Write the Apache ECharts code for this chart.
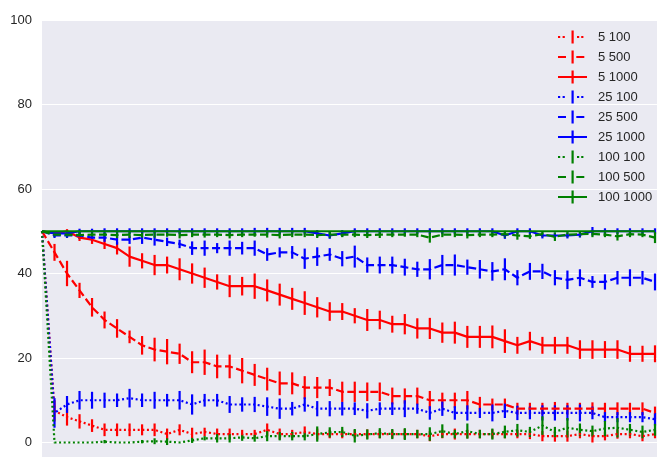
<!DOCTYPE html>
<html>
<head>
<meta charset="utf-8">
<script src="https://cdn.jsdelivr.net/npm/echarts@6/dist/echarts.min.js"></script>
<style>
  html, body { margin: 0; padding: 0; background: #ffffff; }
  #chart { width: 657px; height: 457px; }
</style>
</head>
<body>
<div id="chart"></div>
<script>
// Iteration index along the x axis
const steps = [0,1,2,3,4,5,6,7,8,9,10,11,12,13,14,15,16,17,18,19,20,21,22,23,24,
               25,26,27,28,29,30,31,32,33,34,35,36,37,38,39,40,41,42,43,44,45,46,47,48,49];

const yTicks = [0, 20, 40, 60, 80, 100];

// ---- series "5 *" (red) ----
const mean_5_100 = [50,7.5,6,5,4,3,3,3,3,3,2,3,2,2.5,2,2,2,2,3,2,2,2.5,2,2,2,
                    2,2,2,2,2,2,1.5,2,2,2,2,2,2,2,2,1.5,1.5,1.5,2,1.5,1.5,2,2,1.5,2];
const err_5_100  = [0,2.5,2,1.7,1.5,1.5,1.5,1.5,1.3,1.5,1.3,1.3,1.5,1,1.3,1.3,1,1,1.5,1.3,1,1.3,1.3,1,1,
                    1,1.1,1,1,1.2,1,1.2,1,1.3,1,1,1.1,1,1,1.2,1.2,1.3,1.3,1,1.5,1,1.1,1,1.2,1];

const mean_5_500 = [50,45,40,36,32,29,27,25,23,22,21.5,21,19,19,18,18,17,16,15,14,14,13,13,13,12,
                    12,12,12,11,11,11,10,10,10,10,9,9,9,8,8,8,8,8,8,8,8,8,8,8,7];
const err_5_500  = [0,2,3,1.8,2.2,2,2.2,1.5,2.2,2.8,3,2.4,2.6,3,2.8,2.8,3,2.6,2.7,2.8,2.6,2.7,2.5,2,2.4,
                    2.4,2.2,2.2,2,1.8,2,2.2,1.8,1.8,2.2,1.8,1.4,1.4,1.4,1.4,1.4,1.6,1.4,1.4,1.5,1.4,1.5,1.4,1.5,1.5];

const mean_5_1000 = [50,49.5,50,48.5,48,47,46,44,43,42,42,41,40,39,38,37,37,37,36,35,34,33,32,31,31,
                     30,29,29,28,28,27,27,26,26,25,25,25,24,23,24,23,23,23,22,22,22,22,21,21,21];
const err_5_1000  = [0,0.5,0.5,0.8,1,1.2,1.5,2.4,1.8,2.4,2,2.6,2.4,2.4,1.8,2.6,2.2,3,2.6,2.6,2.6,2.8,2.4,2.2,2,
                     1.8,2.6,2.2,2,2.4,2.4,2.5,2.4,2.6,2.6,2.6,2.7,2.8,2,2.2,2,2,2,2.2,2.2,2,2.2,1.9,1.9,2];

// ---- series "25 *" (blue) ----
const mean_25_100 = [50,7,9,10,10,10,10,10.5,10,10,10,10,9,10,10,9,9,9,8.5,8,8,9,8,8,8,
                     8,7.5,8,8,8,8,7,8,7,7,7,7,7.5,7,7,7,7,7,7,7,6,6,6,6,5.5];
const err_25_100  = [0,3.5,2,2.2,2,1.8,1.6,2.2,1.6,2,1.5,2.2,2.4,1.5,1.5,2,1.7,1.8,2.2,2.4,1.6,1.7,1.8,1.8,1.6,
                     1.5,1.8,1.5,1.5,2,1.2,1.6,1.7,1.6,1.8,1.2,2,1.7,1.7,1.5,1.8,1.8,1.8,2,1.5,1.2,1.2,1.2,1.2,1.5];

const mean_25_500 = [50,49,49,49,48.5,48.5,48,48,48.5,48,47.5,47,46,46,46,46,46,46,44.5,45,45,43.5,44,44.5,43.5,
                     44,42,42,42,41.5,41,41,42,42,41.5,41,40.5,41,39,40.5,40.5,39,38.5,39,38,38,39,39,39,38];
const err_25_500  = [0,0.6,0.6,0.8,0.8,1,1.2,1,1.5,1.4,1,1,1.6,1.8,1.2,1.8,1.5,1.8,1.5,1.2,1.5,2.4,2.2,1.5,1.8,
                     2.6,1.8,2,2,2,1.8,2.4,2.4,2.5,1.8,2.2,2.2,2.6,1.8,2,1.8,1.8,2.2,2,1.4,1.8,1.6,2,1.6,2];

const mean_25_1000 = [50,49.5,49.5,50,50,50,50,50,50,50,50,50,50,50,50,50,50,50,50,50,50,50,49.5,49,49.5,
                      50,50,50,50,50,50,50,50,50,50,50,50,49,50,50,49,49,49,49.2,50,50,50,50,50,50];
const err_25_1000  = [0,0.5,0.5,0.6,0.6,0.7,0.7,0.7,0.7,0.7,0.7,0.7,0.7,0.7,0.7,0.7,0.7,0.8,0.8,0.8,0.8,0.8,0.8,0.8,0.8,
                      0.7,0.7,0.7,0.7,0.7,0.7,0.7,0.7,0.7,0.7,0.7,0.7,0.8,0.7,0.7,0.7,0.7,0.7,0.7,1,0.7,0.7,0.7,0.7,0.7];

// ---- series "100 *" (green) ----
const mean_100_100 = [50,0,0,0,0,0.2,0,0,0.2,0.3,0.2,0,0.5,1,1,1,1.2,1,1.5,1.5,1.5,1.5,2,2.4,2.5,
                      1.6,1.9,2.2,2,2,2,2,2.7,2,2.7,2,2,2.5,2.9,2.5,4,2.5,3.5,3,2.7,3.3,3.5,3,2.5,3];
const err_100_100  = [0,0,0,0,0,0.4,0,0,0.4,0.7,0.8,0,0.6,0.5,1,1,0.8,0.8,1.2,1,1,1,1.8,1.2,1.2,
                      1.6,1.2,1.2,1.2,1.4,1,1.6,1.6,1,1.8,1,1.3,1.5,1.5,1.2,2.2,1.2,2.3,1.5,1.3,1.8,2.3,1.4,1.5,1.4];

const mean_100_500 = [50,49.2,49.2,49.1,49.2,49.2,49.1,49.2,49.1,49.2,49.2,49.1,49.2,49.2,49.2,49.1,49.2,49.2,49.2,49.1,49.2,
                      49.2,49.1,49.2,49.2,49.2,49.1,49.2,49.2,49.2,49.2,48.5,49.2,49.2,49.1,49.2,49.2,49.3,49,48.8,49.3,
                      48.7,49.2,49.3,49.4,49.2,48.8,49.3,49.2,48.5];
const err_100_500  = [0,0.5,0.6,0.8,0.6,0.5,0.7,0.8,0.6,0.7,0.5,0.8,0.6,0.7,0.6,0.8,0.6,0.5,0.7,0.8,0.6,
                      0.6,0.7,0.8,0.6,0.6,0.7,0.8,0.6,0.5,0.6,1.2,0.6,0.6,0.8,0.6,0.6,0.8,1,0.6,0.6,
                      1,0.6,0.6,0.8,0.6,1,0.7,0.6,1.3];

const mean_100_1000 = [50,50,50,50,50,50,50,50,50,50,50,50,50,50,50,50,50,50,50,50,50,50,50,50,50,
                       50,50,50,50,50,50,50,50,50,50,50,50,50,50,50,50,50,50,50,50,50,50,50,50,50];
const err_100_1000  = [0,0,0,0,0,0,0,0,0,0,0,0,0,0,0,0,0,0,0,0,0,0,0,0,0,
                       0,0,0,0,0,0,0,0,0,0,0,0,0,0,0,0,0,0,0,0,0,0,0,0,0];

const seriesDefs = [
  { name: '5 100',    mean: mean_5_100,    err: err_5_100,    color: '#ff0000', style: 'dotted' },
  { name: '5 500',    mean: mean_5_500,    err: err_5_500,    color: '#ff0000', style: 'dashed' },
  { name: '5 1000',   mean: mean_5_1000,   err: err_5_1000,   color: '#ff0000', style: 'solid'  },
  { name: '25 100',   mean: mean_25_100,   err: err_25_100,   color: '#0000ff', style: 'dotted' },
  { name: '25 500',   mean: mean_25_500,   err: err_25_500,   color: '#0000ff', style: 'dashed' },
  { name: '25 1000',  mean: mean_25_1000,  err: err_25_1000,  color: '#0000ff', style: 'solid'  },
  { name: '100 100',  mean: mean_100_100,  err: err_100_100,  color: '#008000', style: 'dotted' },
  { name: '100 500',  mean: mean_100_500,  err: err_100_500,  color: '#008000', style: 'dashed' },
  { name: '100 1000', mean: mean_100_1000, err: err_100_1000, color: '#008000', style: 'solid'  }
];

const LINE_W = 2.2;
const DASHES = { dotted: [2, 2.6], dashed: [8, 3.5], solid: 'solid' };

// Legend glyphs: a short horizontal stroke in the series' pattern crossed by an
// error-bar tick. Two tiny anchors fix the bounding box to the 35x14 legend cell.
const ANCHORS = 'M0,0L0.001,0L0.001,0.001Z M35,14L34.999,14L34.999,13.999Z ';
const BAR = 'M13.5,0.5H15.7V13.5H13.5Z ';
const ICONS = {
  solid:  'path://' + ANCHORS + BAR + 'M0,5.9H29V8.1H0Z',
  dashed: 'path://' + ANCHORS + BAR + 'M0,5.9H8V8.1H0Z M18.3,5.9H26.3V8.1H18.3Z',
  dotted: 'path://' + ANCHORS + BAR +
          'M0,5.9H2.2V8.1H0Z M4.6,5.9H6.8V8.1H4.6Z M19,5.9H21.2V8.1H19Z M23.2,5.9H25.4V8.1H23.2Z'
};

const FONT = '"Liberation Sans", Arial, Helvetica, sans-serif';

const series = [];
seriesDefs.forEach((d, k) => {
  // vertical error bars (drawn below every line)
  const barData = [];
  steps.forEach((x, i) => {
    if (d.err[i] > 0) barData.push([x, d.mean[i] - d.err[i], d.mean[i] + d.err[i]]);
  });
  series.push({
    type: 'custom',
    name: d.name + ' err',
    z: 10 + k,
    silent: true,
    animation: false,
    data: barData,
    encode: { x: 0, y: [1, 2] },
    renderItem: function (params, api) {
      const x = api.value(0);
      const p1 = api.coord([x, api.value(1)]);
      const p2 = api.coord([x, api.value(2)]);
      return {
        type: 'line',
        shape: { x1: p1[0], y1: p1[1], x2: p2[0], y2: p2[1] },
        style: { stroke: d.color, lineWidth: LINE_W, lineCap: 'butt' }
      };
    }
  });
});
seriesDefs.forEach((d, k) => {
  series.push({
    type: 'line',
    name: d.name,
    z: 20 + k,
    animation: false,
    symbol: 'none',
    silent: true,
    data: steps.map((x, i) => [x, d.mean[i]]),
    lineStyle: { color: d.color, width: LINE_W, type: DASHES[d.style], cap: 'butt', join: 'round' },
    itemStyle: { color: d.color }
  });
});

const chart = echarts.init(document.getElementById('chart'), null, { renderer: 'canvas' });
chart.setOption({
  backgroundColor: '#ffffff',
  animation: false,
  grid: {
    show: true,
    left: 42,
    top: 20,
    right: 0,
    height: 507,
    outerBoundsMode: 'none',
    containLabel: false,
    backgroundColor: '#EAEAF2',
    borderWidth: 0
  },
  xAxis: {
    type: 'value',
    min: 0,
    max: 49.16,
    axisLine: { show: false },
    axisTick: { show: false },
    axisLabel: { show: false },
    splitLine: { show: false }
  },
  yAxis: {
    type: 'value',
    min: -20,
    max: 100,
    interval: 20,
    axisLine: { show: false },
    axisTick: { show: false },
    axisLabel: {
      color: '#262626',
      fontSize: 13,
      fontFamily: FONT,
      margin: 10,
      formatter: v => (yTicks.indexOf(v) >= 0 ? String(v) : '')
    },
    splitLine: { show: true, lineStyle: { color: '#ffffff', width: 1.2 } }
  },
  legend: {
    orient: 'vertical',
    left: 558,
    top: 30,
    padding: 0,
    itemWidth: 35,
    itemHeight: 14,
    itemGap: 6,
    selectedMode: false,
    z: 50,
    textStyle: { color: '#262626', fontSize: 13, fontFamily: FONT },
    data: seriesDefs.map(d => ({
      name: d.name,
      icon: ICONS[d.style],
      itemStyle: { color: d.color, borderWidth: 0 }
    }))
  },
  series: series
});
</script>
</body>
</html>
